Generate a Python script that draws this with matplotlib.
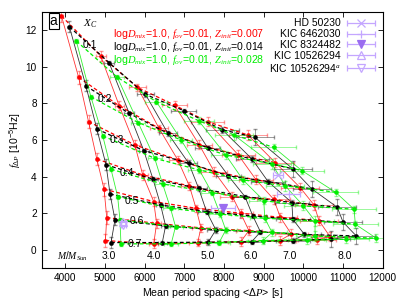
import matplotlib.pyplot as plt
from matplotlib.container import ErrorbarContainer
from matplotlib.legend_handler import HandlerErrorbar

plt.rcParams['font.family'] = ['Liberation Sans', 'DejaVu Sans']
plt.rcParams['font.size'] = 7
plt.rcParams['mathtext.fontset'] = 'custom'
plt.rcParams['mathtext.rm'] = 'Liberation Sans'
plt.rcParams['mathtext.it'] = 'Liberation Serif:italic'

# rows = masses 3..8, columns = Xc 0.1..0.7
red_x = [[3900, 4333, 4583, 4792, 4975, 5042, 5008],
         [4892, 5358, 5750, 5950, 6225, 6300, 6225],
         [5817, 6358, 6833, 7125, 7292, 7417, 7333],
         [6750, 7375, 7750, 8208, 8417, 8625, 8417],
         [7583, 8358, 8808, 9250, 9417, 9692, 9400],
         [8600, 9292, 9917, 10267, 10392, 10667, 10350]]
red_y = [[12.77, 9.42, 7.0, 4.96, 3.31, 1.76, 0.51],
         [10.58, 7.86, 5.73, 4.09, 2.64, 1.45, 0.33],
         [8.87, 6.64, 4.91, 3.49, 2.27, 1.2, 0.4],
         [7.9, 5.73, 4.27, 2.91, 2.0, 1.05, 0.44],
         [7.0, 5.18, 3.82, 2.76, 1.78, 0.87, 0.5],
         [6.27, 4.76, 3.4, 2.45, 1.6, 0.73, 0.55]]
black_x = [[4100, 4517, 4792, 5025, 5125, 5250, 5150],
           [5100, 5608, 5975, 6208, 6400, 6525, 6442],
           [6017, 6583, 7108, 7358, 7558, 7792, 7600],
           [6983, 7583, 8108, 8525, 8725, 8917, 8692],
           [7958, 8708, 9108, 9708, 9733, 10025, 9733],
           [8775, 9733, 10208, 10850, 11000, 11333, 10692]]
black_y = [[12.18, 8.95, 6.6, 4.64, 3.05, 1.64, 0.4],
           [10.22, 7.45, 5.42, 3.86, 2.45, 1.31, 0.4],
           [8.49, 6.36, 4.73, 3.36, 2.09, 1.09, 0.42],
           [7.6, 5.58, 4.04, 2.91, 1.85, 0.98, 0.44],
           [6.55, 4.95, 3.73, 2.58, 1.67, 0.84, 0.51],
           [6.15, 4.42, 3.33, 2.33, 1.51, 0.76, 0.58]]
green_x = [[4275, 4642, 4942, 5150, 5317, 5375, 5400],
           [5308, 5833, 6250, 6450, 6650, 6775, 6667],
           [6292, 6917, 7375, 7692, 7900, 8042, 7875],
           [7358, 8042, 8475, 9000, 9025, 9208, 8983],
           [8250, 9208, 9542, 10000, 10292, 10292, 10083],
           [9250, 9958, 10808, 11275, 11308, 11833, 11083]]
green_y = [[11.4, 8.36, 6.22, 4.4, 2.91, 1.64, 0.33],
           [9.42, 6.95, 5.0, 3.6, 2.27, 1.27, 0.33],
           [8.09, 6.0, 4.36, 3.13, 1.95, 1.09, 0.4],
           [7.05, 5.18, 3.82, 2.69, 1.73, 0.95, 0.51],
           [6.27, 4.69, 3.49, 2.4, 1.58, 0.76, 0.55],
           [5.6, 4.33, 3.15, 2.22, 1.4, 0.64, 0.58]]

# error sizes per mass track
red_xerr = [30, 120, 220, 320, 420, 480]
red_yerr = [0.35, 0.25, 0.2, 0.25, 0.25, 0.25]
black_xerr = [30, 120, 220, 320, 420, 480]
black_yerr = [0.3, 0.1, 0.15, 0.1, 0.15, 0.45]
green_xerr = [30, 180, 280, 380, 480, 560]
green_yerr = [0.1, 0.1, 0.15, 0.2, 0.25, 0.2]

xc_labels = ['0.1', '0.2', '0.3', '0.4', '0.5', '0.6', '0.7']
xc_lab_x = [4625, 5000, 5308, 5542, 5667, 5792, 5750]
xc_lab_y = [11.2, 8.24, 6.0, 4.22, 2.67, 1.58, 0.31]
mass_labels = ['3.0', '4.0', '5.0', '6.0', '7.0', '8.0']
mass_lab_x = [5100, 6225, 7583, 8667, 9642, 11042]

stars = ['HD 50230', 'KIC 6462030', 'KIC 8324482', 'KIC 10526294', 'KIC 10526294$^a$']
star_x = [9358, 9625, 7975, 5458, 5458]
star_y = [4.09, 3.05, 2.27, 1.5, 1.35]
star_xerr = [120, 300, 300, 60, 60]
star_mk = ['x', '+', 'v', '^', 'v']
star_fill = [True, True, True, False, False]

fig = plt.figure(figsize=(4, 3), dpi=100)
ax = fig.add_axes([0.104, 0.106, 0.853, 0.855])

sets = [('#ff0000', red_x, red_y, red_xerr, red_yerr),
        ('#000000', black_x, black_y, black_xerr, black_yerr),
        ('#00ee00', green_x, green_y, green_xerr, green_yerr)]
for col, xs, ys, xe, ye in sets:
    for m in range(len(xs)):
        ax.plot(xs[m], ys[m], '-', color=col, lw=0.6, alpha=0.8)
        ax.errorbar(xs[m], ys[m], xerr=xe[m], yerr=ye[m], fmt='none',
                    ecolor=col, alpha=0.4, elinewidth=0.7, capsize=1.5)
    for k in range(len(xs[0])):
        ax.plot([r[k] for r in xs], [r[k] for r in ys], '--', color=col,
                lw=0.9, dashes=(3, 2))
    for m in range(len(xs)):
        ax.plot(xs[m], ys[m], 'o', color=col, ms=3.3, mec='none')

lav = '#c4a6ff'
dark = '#9a6cf0'
for i in range(len(stars)):
    if star_mk[i] in ('x', '+'):
        fc, ec = lav, lav
    elif star_fill[i]:
        fc, ec = dark, dark
    else:
        fc, ec = 'none', lav
    ax.errorbar(star_x[i], star_y[i], xerr=star_xerr[i], fmt=star_mk[i],
                color=lav, mfc=fc, mec=ec, ms=5.5, mew=0.9,
                elinewidth=0.9, capsize=2.2, label=stars[i])

for i in range(len(xc_labels)):
    ax.text(xc_lab_x[i], xc_lab_y[i], xc_labels[i], fontsize=7.5, ha='center', va='center')
ax.text(4625, 12.33, '$X_C$', fontsize=8, ha='center', va='center')
for i in range(len(mass_labels)):
    ax.text(mass_lab_x[i], -0.33, mass_labels[i], fontsize=7.5, ha='center', va='center')
ax.text(4167, -0.33, '$M/M_{Sun}$', fontsize=7, ha='center', va='center')

ax.text(0.209, 0.913, r'log$D_{mix}$=1.0, $f_{ov}$=0.01, $Z_{init}$=0.007',
        color='#ff0000', fontsize=7.6, transform=ax.transAxes, va='center')
ax.text(0.209, 0.862, r'log$D_{mix}$=1.0, $f_{ov}$=0.01, $Z_{init}$=0.014',
        color='#000000', fontsize=7.6, transform=ax.transAxes, va='center')
ax.text(0.209, 0.812, r'log$D_{mix}$=1.0, $f_{ov}$=0.01, $Z_{init}$=0.028',
        color='#00ee00', fontsize=7.6, transform=ax.transAxes, va='center')

ax.text(0.035, 0.963, 'a', fontsize=10, transform=ax.transAxes, ha='center', va='center',
        bbox=dict(boxstyle='square,pad=0.08', fc='white', ec='black', lw=0.8))

ax.legend(loc='upper right', frameon=False, markerfirst=False, handlelength=2.9,
          fontsize=7.5, labelspacing=0.08, borderaxespad=0.25, handletextpad=0.5,
          handler_map={ErrorbarContainer: HandlerErrorbar(xerr_size=1.35)})

ax.set_xlim(3400, 12000)
ax.set_ylim(-1, 13)
ax.set_xticks(range(4000, 12001, 1000))
ax.set_yticks(range(0, 13, 2))
ax.tick_params(direction='in', top=True, right=True, length=3.5, width=0.6, labelsize=7.2)
for s in ax.spines.values():
    s.set_linewidth(0.8)
ax.set_xlabel('Mean period spacing <Δ$P$> [s]', fontsize=7.6, labelpad=2)
ax.set_ylabel(r'$f_{\Delta P}$ [10$^{-5}$Hz]', fontsize=7.6, labelpad=2)

fig.savefig('out.png', dpi=100)
